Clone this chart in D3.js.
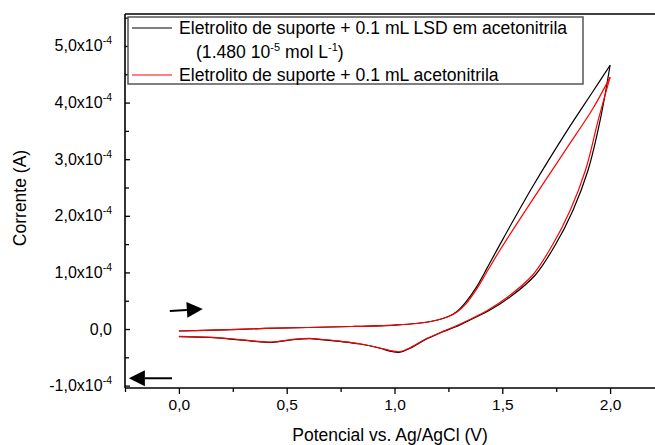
<!DOCTYPE html>
<html>
<head>
<meta charset="utf-8">
<script src="https://cdn.jsdelivr.net/npm/d3@7"></script>
<style>
  html, body { margin: 0; padding: 0; background: #fff; }
  svg { display: block; font-family: "Liberation Sans", Arial, sans-serif; }
</style>
</head>
<body>
<svg id="chart" width="655" height="445"></svg>
<script>
// ---- data (current in units of 1e-4 A, potential in V vs Ag/AgCl) ----
const CURRENT_UNIT = 1e-4;

// LSD in acetonitrile (black) - forward scan 0 -> 2.0 V
const lsdForwardV = [0, 0.2, 0.4, 0.6, 0.8, 1.0, 1.1, 1.2, 1.25, 1.29, 1.33, 1.38, 1.43, 1.49, 1.643, 1.80, 1.921, 2.0];
const lsdForwardI = [-0.035, -0.014, 0.01, 0.027, 0.044, 0.07, 0.097, 0.16, 0.22, 0.31, 0.47, 0.74, 1.08, 1.50, 2.53, 3.50, 4.20, 4.66];
// LSD - reverse scan 2.0 -> 0 V
const lsdReverseV = [2.0, 1.954, 1.898, 1.828, 1.745, 1.652, 1.536, 1.443, 1.350, 1.281, 1.211, 1.142, 1.072, 1.026, 0.979, 0.933, 0.84, 0.747, 0.654, 0.608, 0.538, 0.469, 0.43, 0.33, 0.237, 0.144, 0];
const lsdReverseI = [4.66, 3.69, 2.81, 2.10, 1.48, 0.95, 0.565, 0.336, 0.16, 0.035, -0.07, -0.19, -0.34, -0.41, -0.39, -0.34, -0.265, -0.22, -0.185, -0.17, -0.185, -0.22, -0.235, -0.21, -0.177, -0.15, -0.135];

// acetonitrile blank (red)
const blankForwardV = [0, 0.2, 0.4, 0.6, 0.8, 1.0, 1.1, 1.2, 1.25, 1.29, 1.33, 1.38, 1.43, 1.49, 1.643, 1.80, 1.921, 2.0];
const blankForwardI = [-0.035, -0.014, 0.01, 0.027, 0.044, 0.07, 0.097, 0.16, 0.22, 0.30, 0.44, 0.70, 1.02, 1.40, 2.30, 3.20, 3.90, 4.45];
const blankReverseV = [2.0, 1.945, 1.886, 1.815, 1.732, 1.640, 1.525, 1.434, 1.344, 1.279, 1.211, 1.142, 1.072, 1.026, 0.979, 0.933, 0.84, 0.747, 0.654, 0.608, 0.538, 0.469, 0.43, 0.33, 0.237, 0.144, 0];
const blankReverseI = [4.45, 3.69, 2.81, 2.10, 1.48, 0.95, 0.565, 0.336, 0.16, 0.044, -0.065, -0.18, -0.33, -0.40, -0.38, -0.335, -0.26, -0.215, -0.18, -0.165, -0.18, -0.215, -0.23, -0.205, -0.172, -0.145, -0.13];

// axis ticks
const xTicks = [0, 0.5, 1.0, 1.5, 2.0];
const xTickLabels = ["0,0", "0,5", "1,0", "1,5", "2,0"];
const xMinorTicks = [-0.25, 0.25, 0.75, 1.25, 1.75];
const yTicks = [-1, 0, 1, 2, 3, 4, 5];
const yTickMantissa = ["-1,0x10", "0,0", "1,0x10", "2,0x10", "3,0x10", "4,0x10", "5,0x10"];
const yTickExponent = ["-4", "", "-4", "-4", "-4", "-4", "-4"];
const yMinorTicks = [-0.5, 0.5, 1.5, 2.5, 3.5, 4.5, 5.5];

const legendLabels = ["Eletrolito de suporte + 0.1 mL LSD em acetonitrila", "Eletrolito de suporte + 0.1 mL acetonitrila"];
const seriesColors = ["#000000", "#ff0000"];

(function () {
// ---- layout ----
const svg = d3.select("#chart");
const pLeft = 125, pRight = 664, pTop = 14, pBottom = 388;

const x = d3.scaleLinear().domain([-0.25, 2.25]).range([pLeft, pRight]);
const y = d3.scaleLinear().domain([-1.042, 5.565]).range([pBottom, pTop]);

const zip = (vs, is) => vs.map((v, i) => [v, is[i]]);
const line = d3.line().x(d => x(d[0])).y(d => y(d[1])).curve(d3.curveCatmullRom.alpha(0.5));

const series = [
  { color: seriesColors[1], fwd: zip(blankForwardV, blankForwardI), rev: zip(blankReverseV, blankReverseI) },
  { color: seriesColors[0], fwd: zip(lsdForwardV, lsdForwardI), rev: zip(lsdReverseV, lsdReverseI) }
];

const plot = svg.append("g");
[series[1], series[0]].forEach(s => {
  [s.fwd, s.rev].forEach(seg => {
    plot.append("path").attr("d", line(seg)).attr("fill", "none")
      .attr("stroke", s.color).attr("stroke-width", 1.2).attr("stroke-linejoin", "miter");
  });
});

// ---- axes ----
const xAxis = d3.axisBottom(x).tickValues(xTicks).tickSize(6).tickFormat((d, i) => xTickLabels[i]).tickPadding(5);
const gx = svg.append("g").attr("transform", `translate(0,${pBottom})`).call(xAxis);
gx.select(".domain").remove();
gx.selectAll("line").attr("stroke", "#000").attr("stroke-width", 1.3);
gx.selectAll("text").attr("font-size", 15.5).attr("fill", "#000").attr("font-family", "'Liberation Sans', Arial, sans-serif");
const xMinor = d3.axisBottom(x).tickValues(xMinorTicks).tickSize(4).tickFormat("");
const gxm = svg.append("g").attr("transform", `translate(0,${pBottom})`).call(xMinor);
gxm.select(".domain").remove();
gxm.selectAll("line").attr("stroke", "#000").attr("stroke-width", 1.3);

const yAxis = d3.axisRight(y).tickValues(yTicks).tickSize(5).tickFormat("");
const gy = svg.append("g").attr("transform", `translate(${pLeft},0)`).call(yAxis);
gy.select(".domain").remove();
gy.selectAll("line").attr("stroke", "#000").attr("stroke-width", 1.3);
const yMinor = d3.axisRight(y).tickValues(yMinorTicks).tickSize(4).tickFormat("");
const gym = svg.append("g").attr("transform", `translate(${pLeft},0)`).call(yMinor);
gym.select(".domain").remove();
gym.selectAll("line").attr("stroke", "#000").attr("stroke-width", 1.3);

// y tick labels with superscripts
const yl = svg.append("g");
yTicks.forEach((t, i) => {
  const tx = yl.append("text").attr("x", pLeft - 13).attr("y", y(t) + 5.5)
    .attr("text-anchor", "end").attr("font-size", 16).attr("fill", "#000");
  tx.append("tspan").text(yTickMantissa[i]);
  if (yTickExponent[i]) {
    tx.append("tspan").attr("dy", -7).attr("font-size", 10.5).text(yTickExponent[i]);
  }
});

// frame lines
svg.append("line").attr("x1", pLeft).attr("x2", pLeft).attr("y1", pTop).attr("y2", pBottom).attr("stroke", "#000").attr("stroke-width", 1.6);
svg.append("line").attr("x1", pLeft).attr("x2", pRight).attr("y1", pBottom).attr("y2", pBottom).attr("stroke", "#000").attr("stroke-width", 1.6);
svg.append("line").attr("x1", pLeft).attr("x2", pRight).attr("y1", pTop).attr("y2", pTop).attr("stroke", "#000").attr("stroke-width", 1.6);

// axis titles
svg.append("text").attr("x", 390).attr("y", 441).attr("text-anchor", "middle")
  .attr("font-size", 17.5).attr("fill", "#000").text("Potencial vs. Ag/AgCl (V)");
svg.append("text").attr("transform", "translate(26,198) rotate(-90)").attr("text-anchor", "middle")
  .attr("font-size", 17.5).attr("fill", "#000").text("Corrente (A)");

// ---- scan direction arrows ----
function arrow(x1, y1, x2, y2) {
  const ang = Math.atan2(y2 - y1, x2 - x1);
  const L = 16, W = 8;
  const bx = x2 - L * Math.cos(ang), by = y2 - L * Math.sin(ang);
  svg.append("line").attr("x1", x1).attr("y1", y1).attr("x2", bx).attr("y2", by).attr("stroke", "#000").attr("stroke-width", 2);
  const pts = [[x2, y2], [bx + W * Math.sin(ang), by - W * Math.cos(ang)], [bx - W * Math.sin(ang), by + W * Math.cos(ang)]];
  svg.append("polygon").attr("points", pts.map(p => p.join(",")).join(" ")).attr("fill", "#000");
}
arrow(x(-0.042), y(0.32), x(0.111), y(0.355));
arrow(x(-0.032), y(-0.87), x(-0.232), y(-0.87));

// ---- legend ----
const lg = svg.append("g");
lg.append("rect").attr("x", 128).attr("y", 17).attr("width", 455).attr("height", 67)
  .attr("fill", "#fff").attr("stroke", "#555").attr("stroke-width", 1.5);
lg.append("line").attr("x1", 132).attr("x2", 172).attr("y1", 28).attr("y2", 28).attr("stroke", seriesColors[0]).attr("stroke-width", 1);
lg.append("line").attr("x1", 132).attr("x2", 172).attr("y1", 75).attr("y2", 75).attr("stroke", seriesColors[1]).attr("stroke-width", 1);
lg.append("text").attr("x", 179).attr("y", 34).attr("font-size", 17.6).attr("fill", "#000").text(legendLabels[0]);
const l2 = lg.append("text").attr("x", 196).attr("y", 58).attr("font-size", 17.6).attr("fill", "#000");
l2.append("tspan").text("(1.480 10");
l2.append("tspan").attr("dy", -7).attr("font-size", 11).text("-5");
l2.append("tspan").attr("dy", 7).text(" mol L");
l2.append("tspan").attr("dy", -7).attr("font-size", 11).text("-1");
l2.append("tspan").attr("dy", 7).text(")");
lg.append("text").attr("x", 179).attr("y", 81).attr("font-size", 17.6).attr("fill", "#000").text(legendLabels[1]);
})();
</script>
</body>
</html>
